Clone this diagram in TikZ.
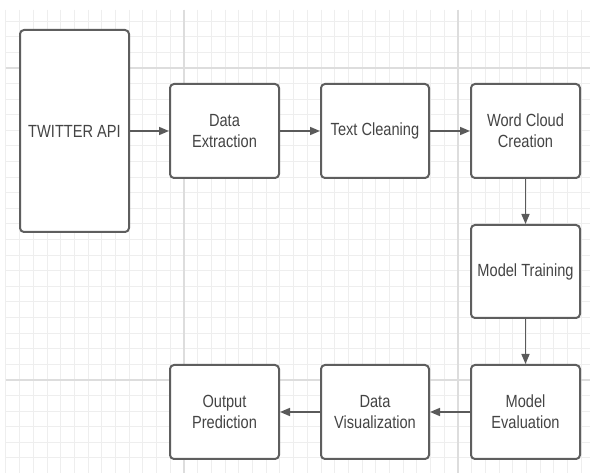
\documentclass[tikz,border=0pt]{standalone}
\usepackage{fontspec}
\setmainfont[FakeStretch=0.83]{Liberation Sans}
\usetikzlibrary{arrows.meta}
\definecolor{boxline}{HTML}{5E5E5E}
\definecolor{arrowc}{HTML}{5A5A5A}
\definecolor{txt}{HTML}{444444}
\definecolor{gridminor}{HTML}{EEEEEE}
\definecolor{gridmajor}{HTML}{DDDDDD}
\tikzset{
  box/.style={draw=boxline, line width=2pt, rounded corners=4pt, fill=white,
    text=txt, font=\fontsize{17.6}{21}\selectfont, align=center},
  flow/.style={draw=arrowc, line width=1.5pt, -{Triangle[length=10pt,width=8pt]}}
}
\begin{document}
\begin{tikzpicture}[x=1pt,y=-1pt]
\useasboundingbox (0,0) rectangle (590,473);
\fill[white] (0,0) rectangle (590,473);
% minor grid
\foreach \i in {0,...,43} {
  \draw[gridminor, line width=1pt] ({5.9+13.7*\i},10) -- ({5.9+13.7*\i},473);
}
\foreach \j in {0,...,30} {
  \pgfmathsetmacro{\yy}{5.6+15.6*\j}
  \ifdim \yy pt > 10pt
    \draw[gridminor, line width=1pt] (5.9,\yy) -- (590,\yy);
  \fi
}
% major grid
\foreach \xx in {184,458} {
  \draw[gridmajor, line width=1.2pt] (\xx,10) -- (\xx,473);
}
\foreach \yy in {68,380} {
  \draw[gridmajor, line width=1.2pt] (5.9,\yy) -- (590,\yy);
}
% boxes
\node[box, minimum width=109pt, minimum height=202pt] (tw) at (74.5,131) {TWITTER API};
\node[box, minimum width=109pt, minimum height=94pt] (de) at (224.5,131) {Data\\Extraction};
\node[box, minimum width=108pt, minimum height=94pt] (tc) at (375,131) {Text Cleaning};
\node[box, minimum width=109pt, minimum height=94pt] (wc) at (525.5,131) {Word Cloud\\Creation};
\node[box, minimum width=109pt, minimum height=93pt] (mt) at (525.5,271.5) {Model Training};
\node[box, minimum width=109pt, minimum height=94pt] (me) at (525.5,412) {Model\\Evaluation};
\node[box, minimum width=108pt, minimum height=94pt] (dv) at (375,412) {Data\\Visualization};
\node[box, minimum width=109pt, minimum height=94pt] (op) at (224.5,412) {Output\\Prediction};
% connectors
\draw[flow] (tw) -- (de);
\draw[flow] (de) -- (tc);
\draw[flow] (tc) -- (wc);
\draw[flow] (wc) -- (mt);
\draw[flow] (mt) -- (me);
\draw[flow] (me) -- (dv);
\draw[flow] (dv) -- (op);
\end{tikzpicture}
\end{document}
